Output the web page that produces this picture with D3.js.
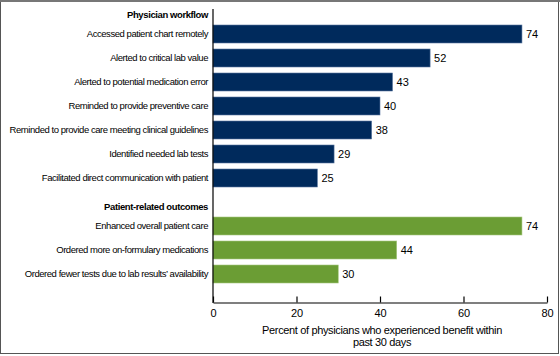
<!DOCTYPE html>
<html><head><meta charset="utf-8">
<script src="https://cdn.jsdelivr.net/npm/d3@7"></script>
<style>body{margin:0;background:#fff}svg{display:block}text{font-family:"Liberation Sans",Arial,sans-serif;fill:#000}</style>
</head><body><svg id="c" width="560" height="356"></svg>
<script>
const groups = ["Physician workflow", "Patient-related outcomes"];
const workflowLabels = ["Accessed patient chart remotely","Alerted to critical lab value","Alerted to potential medication error","Reminded to provide preventive care","Reminded to provide care meeting clinical guidelines","Identified needed lab tests","Facilitated direct communication with patient"];
const workflowValues = [74, 52, 43, 40, 38, 29, 25];
const outcomeLabels = ["Enhanced overall patient care","Ordered more on-formulary medications","Ordered fewer tests due to lab results\u2019 availability"];
const outcomeValues = [74, 44, 30];
const xTicks = [0, 20, 40, 60, 80];
const xTitle = ["Percent of physicians who experienced benefit within", "past 30 days"];
const colors = ["#002a5c", "#6b9d34"];

const rows = [];
rows.push({key: "h0", label: groups[0], header: true});
workflowLabels.forEach((l, i) => rows.push({key: "w" + i, label: l, value: workflowValues[i], g: 0}));
rows.push({key: "h1", label: groups[1], header: true});
outcomeLabels.forEach((l, i) => rows.push({key: "o" + i, label: l, value: outcomeValues[i], g: 1}));

const svg = d3.select("#c");
// frame
svg.append("rect").attr("x", 0.5).attr("y", 0.5).attr("width", 558).attr("height", 353)
  .attr("fill", "none").attr("stroke", "#555").attr("stroke-width", 1);
svg.append("line").attr("x1", 0).attr("x2", 560).attr("y1", 1).attr("y2", 1)
  .attr("stroke", "#777").attr("stroke-width", 2);

const x = d3.scaleLinear().domain([0, 80]).range([213, 547]);
const y = d3.scaleBand().domain(rows.map(d => d.key)).range([-2, 286]).paddingInner(0.25).paddingOuter(0.125);
const axisY = 302.5;

// bars
const bars = rows.filter(d => !d.header);
svg.append("g").selectAll("rect").data(bars).join("rect")
  .attr("x", x(0)).attr("y", d => y(d.key)).attr("width", d => x(d.value) - x(0)).attr("height", y.bandwidth())
  .attr("fill", d => colors[d.g]).attr("stroke", d => d.g === 0 ? "#5a77a0" : "#a6c77f").attr("stroke-width", 0.6);

// value labels
svg.append("g").selectAll("text").data(bars).join("text")
  .attr("x", d => x(d.value) + 4).attr("y", d => y(d.key) + y.bandwidth() / 2).attr("dy", "0.35em")
  .style("font-size", "11px").text(d => d.value);

// category labels
svg.append("g").selectAll("text").data(rows).join("text")
  .attr("x", 208).attr("y", d => y(d.key) + y.bandwidth() / 2 + (d.header ? 5 : 0)).attr("dy", "0.35em")
  .attr("text-anchor", "end")
  .style("font-size", "9.5px")
  .style("letter-spacing", d => d.header ? "-0.4px" : "-0.45px")
  .style("font-weight", d => d.header ? "bold" : "normal")
  .text(d => d.label);

// x axis
const xAxis = d3.axisBottom(x).tickValues(xTicks).tickSize(-6).tickPadding(6.5).tickSizeOuter(0);
const gx = svg.append("g").attr("transform", `translate(0,${axisY})`).call(xAxis);
gx.select(".domain").attr("stroke", "#000").attr("stroke-width", 1.2);
gx.selectAll(".tick line").attr("stroke", "#000").attr("stroke-width", 1.2);
gx.selectAll(".tick text").style("font-size", "11px").style("font-family", "Liberation Sans, Arial, sans-serif").attr("fill", "#000");

// y axis line
svg.append("line").attr("x1", x(0)).attr("x2", x(0)).attr("y1", 9).attr("y2", axisY + 0.5)
  .attr("stroke", "#000").attr("stroke-width", 1.2);

// x title
svg.append("g").selectAll("text").data(xTitle).join("text")
  .attr("x", (x(0) + x(80)) / 2 + 2).attr("y", (d, i) => 334 + i * 12)
  .attr("text-anchor", "middle").style("font-size", "11px").style("letter-spacing", "-0.35px").text(d => d);
</script></body></html>
